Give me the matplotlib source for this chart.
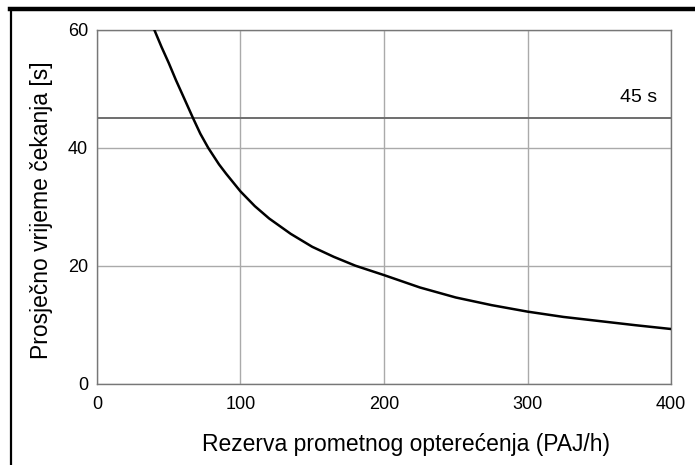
import matplotlib
matplotlib.use("Agg")
import matplotlib.pyplot as plt
from matplotlib.lines import Line2D

plt.rcParams['font.family'] = ['Liberation Sans', 'DejaVu Sans']

# data
reserve = [40, 45, 50, 55, 60, 67, 72, 77.5, 85, 90, 100, 110, 120, 135, 150, 165, 180,
           200, 225, 250, 275, 300, 325, 350, 375, 400]
delay = [60.0, 57.1, 54.4, 51.5, 48.8, 45.0, 42.4, 40.0, 37.2, 35.6, 32.6, 30.1, 28.0,
         25.4, 23.2, 21.5, 20.0, 18.4, 16.3, 14.6, 13.3, 12.2, 11.3, 10.6, 9.9, 9.25]
limit = 45
limit_label = "45 s"
xticks = [0, 100, 200, 300, 400]
yticks = [0, 20, 40, 60]
xlabel = "Rezerva prometnog opterećenja (PAJ/h)"
ylabel = "Prosječno vrijeme čekanja [s]"

fig = plt.figure(figsize=(6.95, 4.65), dpi=100)
ax = fig.add_axes([97/695, 1-383.5/465, (671-97)/695, (383.5-30)/465])

ax.plot(reserve, delay, color='black', lw=1.8, zorder=3, solid_joinstyle='round')
ax.axhline(limit, color='#6e6e6e', lw=1.4, zorder=2)
ax.text(390, limit + 2.7, limit_label, ha='right', va='baseline', fontsize=14)

ax.set_xlim(0, 400)
ax.set_ylim(0, 60)
ax.set_xticks(xticks)
ax.set_yticks(yticks)
ax.grid(True, color='#aaaaaa', lw=1.0)
ax.set_axisbelow(True)
ax.tick_params(length=0, labelsize=13)
ax.tick_params(axis='x', pad=9)
ax.tick_params(axis='y', pad=6.5)
for s in ax.spines.values():
    s.set_color('#777777')
    s.set_linewidth(1.0)

ax.set_xlabel(xlabel, fontsize=16.5)
ax.xaxis.set_label_coords((406 - 97) / 574, (383.5 - 433) / 353.5)
ax.set_ylabel(ylabel, fontsize=16.5)
ax.yaxis.set_label_coords((53 - 97) / 574, (383.5 - 210) / 353.5)

# figure border (top and left)
fig.add_artist(Line2D([10/695, 1], [1-9/465, 1-9/465], transform=fig.transFigure,
                      color='black', lw=3.2))
fig.add_artist(Line2D([11/695, 11/695], [0, 1-9/465], transform=fig.transFigure,
                      color='black', lw=1.6))

fig.savefig("out.png", dpi=100)
